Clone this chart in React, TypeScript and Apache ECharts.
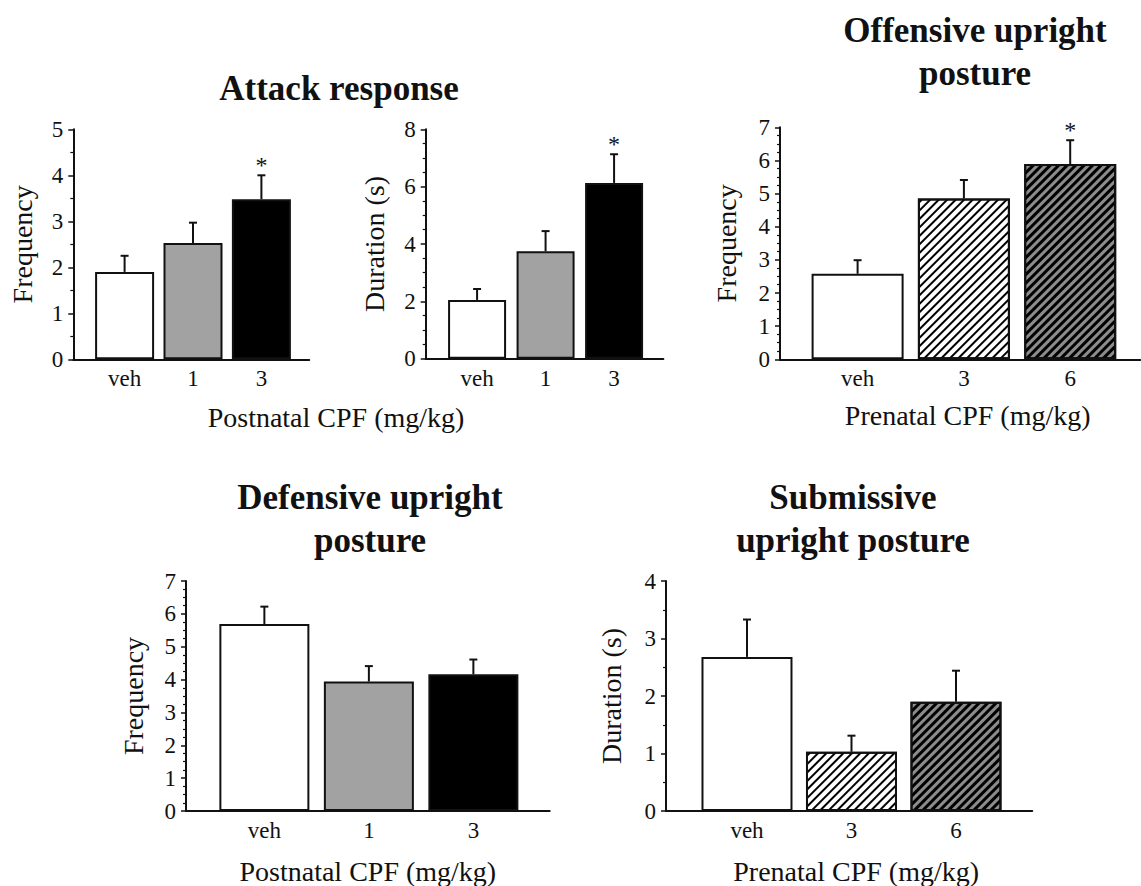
import React, { useEffect, useRef } from 'react';
import * as echarts from 'echarts';

// ---------- data ----------
const postnatalDoses = ['veh', '1', '3'];
const prenatalDoses = ['veh', '3', '6'];

const attackFrequencyMean = [1.9, 2.53, 3.48];
const attackFrequencySem = [0.35, 0.44, 0.52];
const attackFrequencySig = [false, false, true];

const attackDurationMean = [2.05, 3.75, 6.13];
const attackDurationSem = [0.38, 0.7, 1.0];
const attackDurationSig = [false, false, true];

const offensiveFrequencyMean = [2.58, 4.85, 5.89];
const offensiveFrequencySem = [0.41, 0.56, 0.72];
const offensiveFrequencySig = [false, false, true];

const defensiveFrequencyMean = [5.69, 3.94, 4.16];
const defensiveFrequencySem = [0.53, 0.47, 0.45];
const defensiveFrequencySig = [false, false, false];

const submissiveDurationMean = [2.68, 1.03, 1.9];
const submissiveDurationSem = [0.65, 0.28, 0.54];
const submissiveDurationSig = [false, false, false];

const tickPositions = [0, 1, 2];

// ---------- styles ----------
const FONT = 'Liberation Serif, Times New Roman, serif';
const INK = '#111111';
const GRAY = '#a2a2a2';
const DARK_GRAY = '#8c8c8c';

const lightHatch = {
  symbol: 'rect',
  symbolSize: 1,
  color: '#000',
  dashArrayX: [1, 0],
  dashArrayY: [1.5, 3.5],
  rotation: -Math.PI / 4,
};
const darkHatch = {
  symbol: 'rect',
  symbolSize: 1,
  color: '#000',
  dashArrayX: [1, 0],
  dashArrayY: [2.5, 2.5],
  rotation: -Math.PI / 4,
};

const postnatalFills = [
  { color: '#ffffff' },
  { color: GRAY },
  { color: '#000000' },
];
const prenatalFills = [
  { color: '#ffffff' },
  { color: '#ffffff', decal: lightHatch },
  { color: DARK_GRAY, decal: darkHatch },
];

type Panel = {
  left: number;
  top: number;
  height: number;
  xMin: number;
  xMax: number;
  spacing: number;
  yMax: number;
  yInterval: number;
  minorSplit: number;
  cats: string[];
  mean: number[];
  sem: number[];
  sig: boolean[];
  fills: any[];
  barWidth: number;
  yName: string;
  yNameGap: number;
  xName?: string;
  xNameGap?: number;
  xNameShift?: number;
};

const panels: Panel[] = [
  {
    left: 73.3, top: 129.3, height: 230, xMin: -0.75, xMax: 2.7, spacing: 68.4,
    yMax: 5, yInterval: 1, minorSplit: 2, cats: postnatalDoses,
    mean: attackFrequencyMean, sem: attackFrequencySem, sig: attackFrequencySig,
    fills: postnatalFills, barWidth: 59, yName: 'Frequency', yNameGap: 37,
  },
  {
    left: 425.7, top: 129.3, height: 229.4, xMin: -0.75, xMax: 2.72, spacing: 68.5,
    yMax: 8, yInterval: 2, minorSplit: 4, cats: postnatalDoses,
    mean: attackDurationMean, sem: attackDurationSem, sig: attackDurationSig,
    fills: postnatalFills, barWidth: 58, yName: 'Duration (s)', yNameGap: 37,
  },
  {
    left: 780, top: 127.3, height: 232, xMin: -0.73, xMax: 2.66, spacing: 106.3,
    yMax: 7, yInterval: 1, minorSplit: 4, cats: prenatalDoses,
    mean: offensiveFrequencyMean, sem: offensiveFrequencySem, sig: offensiveFrequencySig,
    fills: prenatalFills, barWidth: 92, yName: 'Frequency', yNameGap: 40,
    xName: 'Prenatal CPF (mg/kg)', xNameGap: 42, xNameShift: 15,
  },
  {
    left: 186, top: 581, height: 231.3, xMin: -0.75, xMax: 2.73, spacing: 104.5,
    yMax: 7, yInterval: 1, minorSplit: 4, cats: postnatalDoses,
    mean: defensiveFrequencyMean, sem: defensiveFrequencySem, sig: defensiveFrequencySig,
    fills: postnatalFills, barWidth: 90, yName: 'Frequency', yNameGap: 39,
    xName: 'Postnatal CPF (mg/kg)', xNameGap: 46, xNameShift: 0,
  },
  {
    left: 666, top: 581, height: 230.3, xMin: -0.775, xMax: 2.73, spacing: 104.5,
    yMax: 4, yInterval: 1, minorSplit: 2, cats: prenatalDoses,
    mean: submissiveDurationMean, sem: submissiveDurationSem, sig: submissiveDurationSig,
    fills: prenatalFills, barWidth: 91, yName: 'Duration (s)', yNameGap: 41,
    xName: 'Prenatal CPF (mg/kg)', xNameGap: 46, xNameShift: 14,
  },
];

function buildOption() {
  const grid: any[] = [];
  const xAxis: any[] = [];
  const yAxis: any[] = [];
  const series: any[] = [];

  panels.forEach((p, idx) => {
    const width = (p.xMax - p.xMin) * p.spacing;
    grid.push({ left: p.left, top: p.top, width, height: p.height, containLabel: false });
    xAxis.push({
      type: 'value',
      gridIndex: idx,
      min: p.xMin,
      max: p.xMax,
      axisLine: { show: true, onZero: false, lineStyle: { color: INK, width: 2 } },
      axisTick: { show: false },
      splitLine: { show: false },
      axisLabel: {
        customValues: tickPositions,
        formatter: (v: number) => p.cats[Math.round(v)] ?? '',
        fontFamily: FONT,
        fontSize: 23,
        color: INK,
        margin: 8,
      },
      name: p.xName || '',
      nameLocation: 'middle',
      nameGap: p.xNameGap || 0,
      nameTextStyle: {
        fontFamily: FONT,
        fontSize: 28,
        color: INK,
        padding: [0, 0, 0, p.xNameShift || 0],
      },
    });
    yAxis.push({
      type: 'value',
      gridIndex: idx,
      min: 0,
      max: p.yMax,
      interval: p.yInterval,
      axisLine: { show: true, onZero: false, lineStyle: { color: INK, width: 2 } },
      axisTick: { show: true, length: 5, lineStyle: { color: INK, width: 1.5 } },
      minorTick: { show: true, splitNumber: p.minorSplit, length: 3, lineStyle: { color: INK, width: 1.2 } },
      splitLine: { show: false },
      minorSplitLine: { show: false },
      axisLabel: { fontFamily: FONT, fontSize: 23, color: INK, margin: 10 },
      name: p.yName,
      nameLocation: 'middle',
      nameGap: p.yNameGap,
      nameTextStyle: { fontFamily: FONT, fontSize: 28, color: INK },
    });
    series.push({
      type: 'bar',
      xAxisIndex: idx,
      yAxisIndex: idx,
      barWidth: p.barWidth,
      itemStyle: { borderColor: INK, borderWidth: 2 },
      data: p.mean.map((m, i) => ({
        value: [tickPositions[i], m],
        itemStyle: { ...p.fills[i], borderColor: INK, borderWidth: 2 },
      })),
      z: 2,
    });
    series.push({
      type: 'custom',
      xAxisIndex: idx,
      yAxisIndex: idx,
      z: 3,
      data: p.mean.map((m, i) => [tickPositions[i], m, m + p.sem[i], p.sig[i] ? 1 : 0]),
      renderItem: (params: any, api: any) => {
        const x = api.value(0);
        const base = api.coord([x, api.value(1)]);
        const top = api.coord([x, api.value(2)]);
        const children: any[] = [
          {
            type: 'line',
            shape: { x1: base[0], y1: base[1], x2: top[0], y2: top[1] },
            style: { stroke: INK, lineWidth: 2 },
          },
          {
            type: 'line',
            shape: { x1: top[0] - 4, y1: top[1], x2: top[0] + 4, y2: top[1] },
            style: { stroke: INK, lineWidth: 2 },
          },
        ];
        if (api.value(3) === 1) {
          children.push({
            type: 'text',
            x: top[0],
            y: top[1] - 10,
            style: {
              text: '*',
              font: `24px ${FONT}`,
              fill: INK,
              textAlign: 'center',
              textVerticalAlign: 'middle',
            },
          });
        }
        return { type: 'group', children };
      },
    });
  });

  const titleFont = `bold 35px ${FONT}`;
  const graphic = [
    { type: 'text', x: 339, y: 88, style: { text: 'Attack response', font: titleFont, fill: INK, textAlign: 'center', textVerticalAlign: 'middle' } },
    { type: 'text', x: 975, y: 51.5, style: { text: 'Offensive upright\nposture', font: titleFont, lineHeight: 43, fill: INK, textAlign: 'center', textVerticalAlign: 'middle' } },
    { type: 'text', x: 370, y: 518.5, style: { text: 'Defensive upright\nposture', font: titleFont, lineHeight: 43, fill: INK, textAlign: 'center', textVerticalAlign: 'middle' } },
    { type: 'text', x: 853, y: 518.5, style: { text: 'Submissive\nupright posture', font: titleFont, lineHeight: 43, fill: INK, textAlign: 'center', textVerticalAlign: 'middle' } },
    { type: 'text', x: 336, y: 417, style: { text: 'Postnatal CPF (mg/kg)', font: `28px ${FONT}`, fill: INK, textAlign: 'center', textVerticalAlign: 'middle' } },
  ];

  return {
    animation: false,
    backgroundColor: '#ffffff',
    textStyle: { fontFamily: FONT, color: INK },
    grid,
    xAxis,
    yAxis,
    series,
    graphic,
  };
}

export default function App() {
  const ref = useRef<HTMLDivElement>(null);
  useEffect(() => {
    if (!ref.current) return;
    const chart = echarts.init(ref.current, null, { renderer: 'svg' });
    chart.setOption(buildOption() as any);
    return () => chart.dispose();
  }, []);
  return (
    <div
      ref={ref}
      style={{ position: 'absolute', left: 0, top: 0, width: 1141, height: 886, background: '#fff' }}
    />
  );
}
